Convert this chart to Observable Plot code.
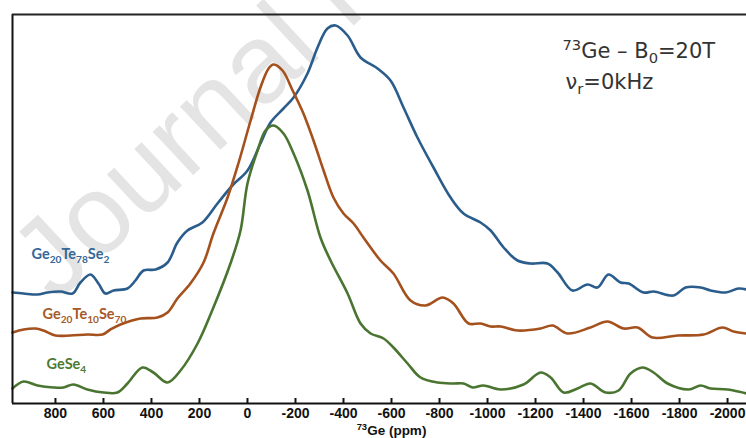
<!DOCTYPE html>
<html>
<head>
<meta charset="utf-8">
<script src="https://cdn.jsdelivr.net/npm/d3@7"></script>
<script src="https://cdn.jsdelivr.net/npm/@observablehq/plot@0.6"></script>
<style>
  html, body { margin: 0; padding: 0; background: #fff; }
  #chart svg { display: block; }
</style>
</head>
<body>
<div id="chart"></div>
<script>
// ---------- data ----------
const seriesNames = ["Ge20Te78Se2", "Ge20Te10Se70", "GeSe4"];

// Ge20Te78Se2 (top trace)
const geTe78Ppm = [979, 933, 875, 833, 779, 729, 696, 654, 621, 592, 558, 500, 467, 433, 383, 333, 292, 250, 188, 125, 63, 0,
  -54, -96, -150, -192, -250, -292, -333, -367, -417, -471, -542, -596, -650, -708, -775, -846, -900, -971, -1013, -1067,
  -1125, -1179, -1250, -1292, -1354, -1417, -1458, -1504, -1554, -1588, -1650, -1692, -1775, -1825, -1888, -1929, -1992, -2046, -2079];
const geTe78Int = [111, 110, 109, 111, 112, 110, 121, 129, 120, 110, 113, 115, 123, 133, 134, 141, 161, 173, 181, 200, 218, 233,
  260, 281, 295, 306, 330, 356, 375, 378, 368, 346, 335, 323, 296, 266, 236, 206, 190, 181, 173, 156,
  143, 140, 140, 131, 113, 119, 116, 129, 121, 120, 111, 112, 108, 116, 116, 113, 111, 115, 114];

// Ge20Te10Se70 (middle trace)
const geTe10Ppm = [979, 933, 883, 850, 800, 738, 667, 604, 571, 529, 446, 375, 333, 292, 238, 183, 142, 83, 38, -13, -54, -88,
  -108, -146, -188, -233, -275, -317, -358, -400, -442, -483, -554, -608, -679, -742, -813, -858, -921, -971, -1013, -1054,
  -1125, -1221, -1271, -1333, -1429, -1500, -1567, -1625, -1688, -1792, -1900, -1979, -2025, -2079];
const geTe10Int = [71, 74, 75, 73, 68, 68, 69, 69, 74, 79, 85, 86, 91, 105, 120, 141, 170, 206, 240, 283, 316, 335,
  339, 333, 313, 290, 263, 233, 206, 190, 180, 166, 143, 130, 103, 98, 106, 100, 80, 80, 77, 77,
  73, 75, 78, 70, 76, 82, 75, 76, 66, 68, 69, 76, 72, 70];

// GeSe4 (bottom trace)
const geSe4Ppm = [979, 933, 875, 808, 767, 725, 667, 600, 542, 500, 438, 392, 333, 279, 208, 142, 71, 29, 0, -42, -75,
  -108, -150, -192, -250, -304, -346, -417, -471, -513, -567, -608, -667, -721, -792, -858, -900, -938, -983, -1054,
  -1150, -1221, -1263, -1317, -1375, -1429, -1492, -1546, -1596, -1646, -1692, -1750, -1838, -1888, -1929, -2000, -2079];
const geSe4Int = [15, 22, 18, 16, 16, 19, 14, 11, 11, 20, 36, 31, 21, 33, 60, 96, 140, 173, 220, 253, 273,
  278, 270, 250, 213, 166, 143, 110, 80, 70, 65, 56, 40, 26, 21, 20, 20, 16, 18, 14,
  19, 31, 26, 11, 15, 20, 11, 13, 30, 36, 31, 20, 14, 18, 15, 14, 10];

// axis
const xTicks = [800, 600, 400, 200, 0, -200, -400, -600, -800, -1000, -1200, -1400, -1600, -1800, -2000];
const xDomain = [979, -2079];
const yDomain = [0, 389];
const xLabel = "73Ge (ppm)";

// series label anchors (ppm, intensity)
const labelPpm = [900, 854, 837];
const labelInt = [145, 85, 35];

// annotation lines
const noteLines = ["73Ge – B0=20T", "νr=0kHz"];
const watermark = "Journal Pre-proof";

// ---------- styles ----------
const colors = ["#2b5d8c", "#a4511d", "#4a7531"];
const labelColors = ["#366796", "#a75a29", "#4d7a35"];

// ---------- build rows ----------
const traces = [[geTe78Ppm, geTe78Int], [geTe10Ppm, geTe10Int], [geSe4Ppm, geSe4Int]];
const lineRows = traces.flatMap(([p, v], i) => p.map((d, j) => ({series: seriesNames[i], ppm: d, v: v[j]})));
const labelRows = seriesNames.map((s, i) => ({series: s, ppm: labelPpm[i], v: labelInt[i], color: labelColors[i]}));

const chart = Plot.plot({
  width: 746,
  height: 438,
  marginLeft: 12,
  marginRight: 0,
  marginTop: 14,
  marginBottom: 35,
  style: {background: "#fff", overflow: "hidden"},
  x: {domain: xDomain, axis: null},
  y: {domain: yDomain, axis: null},
  color: {domain: seriesNames, range: colors},
  marks: [
    Plot.text([watermark], {
      frameAnchor: "bottom-left", dx: 43, dy: -100, rotate: -43,
      textAnchor: "start", lineAnchor: "bottom",
      fontSize: 112, fontFamily: "Liberation Sans, Arial, sans-serif",
      fill: "#e4e4e4"
    }),
    Plot.line(lineRows, {x: "ppm", y: "v", z: "series", stroke: "series", strokeWidth: 2.6, curve: "catmull-rom"}),
    Plot.text(labelRows, {
      x: "ppm", y: "v", text: "series", fill: "color",
      textAnchor: "start", lineAnchor: "bottom",
      fontSize: 14.5, fontWeight: "bold", fontFamily: "Lato, Carlito, sans-serif"
    }),
    Plot.ruleX([xDomain[0]], {stroke: "#111", strokeWidth: 2}),
    Plot.ruleY([yDomain[0]], {stroke: "#111", strokeWidth: 2}),
    Plot.ruleY([yDomain[1]], {stroke: "#222", strokeWidth: 2}),
    Plot.ruleX(xTicks, {insetTop: 384, stroke: "#111", strokeWidth: 2}),
    Plot.axisX(xTicks, {
      tickSize: 0, tickPadding: 5, tickFormat: d => String(d), label: null,
      fontSize: 14, fontWeight: "bold", fontFamily: "Liberation Sans, Arial, sans-serif", fill: "#111"
    }),
    Plot.text([xLabel], {
      frameAnchor: "bottom", dx: 12, dy: 31.5, lineAnchor: "bottom",
      fontSize: 13.5, fontWeight: "bold", fontFamily: "Liberation Sans, Arial, sans-serif", fill: "#111"
    }),
    Plot.text([noteLines[0]], {
      frameAnchor: "top-right", dx: -184, dy: 43, textAnchor: "start", lineAnchor: "bottom",
      fontSize: 21, fontFamily: "DejaVu Sans, sans-serif", fill: "#333"
    }),
    Plot.text([noteLines[1]], {
      frameAnchor: "top-right", dx: -181, dy: 74, textAnchor: "start", lineAnchor: "bottom",
      fontSize: 21, fontFamily: "DejaVu Sans, sans-serif", fill: "#333"
    })
  ]
});

// ---------- rich text (sub/superscripts) ----------
const richParts = {
  "Ge20Te78Se2": [["Ge"], ["20", "sub"], ["Te"], ["78", "sub"], ["Se"], ["2", "sub"]],
  "Ge20Te10Se70": [["Ge"], ["20", "sub"], ["Te"], ["10", "sub"], ["Se"], ["70", "sub"]],
  "GeSe4": [["Ge"], ["Se"], ["4", "sub"]],
  "73Ge (ppm)": [["73", "sup"], ["Ge (ppm)"]],
  "73Ge – B0=20T": [["73", "sup"], ["Ge – B"], ["0", "sub"], ["=20T"]],
  "νr=0kHz": [["ν"], ["r", "sub"], ["=0kHz"]]
};
d3.select(chart).selectAll("text").each(function () {
  const key = this.textContent;
  const parts = richParts[key];
  if (!parts) return;
  const base = parseFloat(this.getAttribute("font-size")) ||
    parseFloat(this.parentNode.getAttribute("font-size")) || 14;
  const sel = d3.select(this);
  sel.text(null);
  let shift = 0;
  for (const [s, kind] of parts) {
    const target = kind === "sub" ? base * 0.28 : kind === "sup" ? -base * 0.36 : 0;
    const t = sel.append("tspan").text(s);
    if (target - shift !== 0) t.attr("dy", target - shift);
    if (kind) t.attr("font-size", base * 0.7);
    shift = target;
  }
});

document.getElementById("chart").appendChild(chart);
</script>
</body>
</html>
